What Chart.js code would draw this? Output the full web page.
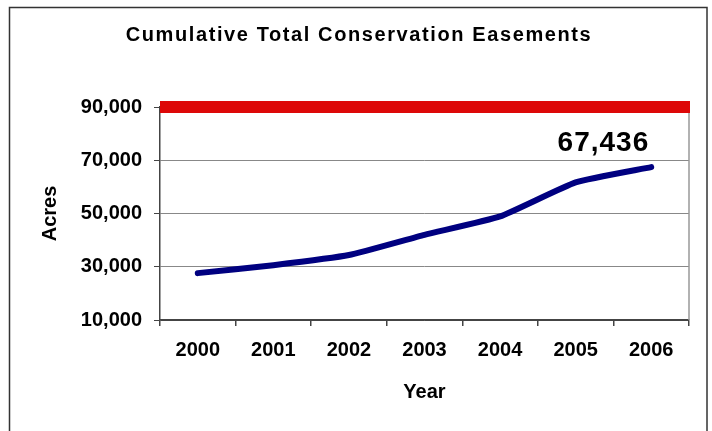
<!DOCTYPE html>
<html>
<head>
<meta charset="utf-8">
<title>Cumulative Total Conservation Easements</title>
<script src="https://cdn.jsdelivr.net/npm/chart.js@4"></script>
<style>
  html, body { margin: 0; padding: 0; background: #fff; }
  #wrap { width: 712px; height: 431px; }
</style>
</head>
<body>
<div id="wrap"><canvas id="easementChart" width="712" height="431"></canvas></div>
<script>
// Chart data
const TITLE = "Cumulative Total Conservation Easements";
const YEARS = ["2000", "2001", "2002", "2003", "2004", "2005", "2006"];
const ACRES = [27600, 30600, 34400, 42000, 48900, 61700, 67436];
const GOAL_ACRES = 90000;
const Y_TICKS = [10000, 30000, 50000, 70000, 90000];

const FONT = "'Liberation Sans', Arial, sans-serif";
const AXIS_DARK = "#444";

/**
 * Frame, title, goal band, plot edge and the end-value label
 */
const decorations = {
  id: "decorations",
  beforeDraw(chart) {
    const { ctx } = chart;
    ctx.save();
    // outer frame (bottom edge runs off the canvas)
    ctx.strokeStyle = "#333";
    ctx.lineWidth = 1.5;
    ctx.strokeRect(9.5, 7.5, 697.5, 500);

    ctx.fillStyle = "#000";
    ctx.font = "bold 20px " + FONT;
    ctx.letterSpacing = "1.6px";
    ctx.textAlign = "center";
    ctx.textBaseline = "middle";
    ctx.fillText(TITLE, 359, 35);
    ctx.restore();
  },
  afterDraw(chart) {
    const { ctx, chartArea } = chart;
    const y = chart.scales.y;
    ctx.save();

    // right edge of the plot area
    ctx.strokeStyle = "#999";
    ctx.lineWidth = 1.5;
    ctx.beginPath();
    ctx.moveTo(chartArea.right, chartArea.top);
    ctx.lineTo(chartArea.right, chartArea.bottom);
    ctx.stroke();

    // goal band
    const gy = y.getPixelForValue(GOAL_ACRES);
    ctx.strokeStyle = "#dd0808";
    ctx.lineWidth = 12;
    ctx.beginPath();
    ctx.moveTo(chartArea.left, gy);
    ctx.lineTo(chartArea.right + 1, gy);
    ctx.stroke();

    // latest total above the last point
    const meta = chart.getDatasetMeta(0);
    const idx = ACRES.length - 1;
    const pt = meta.data[idx];
    ctx.fillStyle = "#000";
    ctx.font = "bold 28px " + FONT;
    ctx.letterSpacing = "1px";
    ctx.textAlign = "right";
    ctx.textBaseline = "middle";
    ctx.fillText(ACRES[idx].toLocaleString("en-US"), pt.x - 2, pt.y - 24);
    ctx.restore();
  },
};

const ctx = document.getElementById("easementChart").getContext("2d");

new Chart(ctx, {
  type: "line",
  data: {
    labels: YEARS,
    datasets: [
      {
        label: "Acres",
        data: ACRES,
        borderColor: "#000080",
        borderWidth: 6,
        borderCapStyle: "round",
        borderJoinStyle: "round",
        pointRadius: 0,
        tension: 0.15,
        fill: false,
      },
    ],
  },
  options: {
    responsive: false,
    animation: false,
    layout: {
      padding: { left: 10, right: 23, top: 107, bottom: 0 },
    },
    plugins: {
      legend: { display: false },
      tooltip: { enabled: false },
      title: { display: false },
    },
    scales: {
      x: {
        type: "category",
        offset: true,
        grid: {
          offset: true,
          drawOnChartArea: false,
          drawTicks: true,
          tickLength: 6,
          tickColor: AXIS_DARK,
          lineWidth: 1.5,
        },
        border: { color: AXIS_DARK, width: 1.5 },
        ticks: {
          color: "#000",
          font: { family: FONT, size: 20, weight: "bold" },
          padding: 12,
          maxRotation: 0,
          autoSkip: false,
        },
        title: {
          display: true,
          text: "Year",
          color: "#000",
          font: { family: FONT, size: 20, weight: "bold" },
          padding: { top: 0, bottom: 27 },
        },
        afterFit(scale) {
          scale.height = 111;
        },
      },
      y: {
        min: 10000,
        max: 90000,
        afterBuildTicks(scale) {
          scale.ticks = Y_TICKS.map((v) => ({ value: v }));
        },
        grid: {
          color: (c) => (c.tick && c.tick.value === 10000 ? AXIS_DARK : "#888"),
          lineWidth: 1,
          drawTicks: true,
          tickLength: 6,
          tickColor: AXIS_DARK,
        },
        border: { color: AXIS_DARK, width: 1.5 },
        ticks: {
          color: "#000",
          font: { family: FONT, size: 20, weight: "bold" },
          padding: 12,
          callback: (v) => Number(v).toLocaleString("en-US"),
        },
        title: {
          display: true,
          text: "Acres",
          color: "#000",
          font: { family: FONT, size: 20, weight: "bold" },
          padding: { top: 28, bottom: 0 },
        },
        afterFit(scale) {
          scale.width = 150;
        },
      },
    },
  },
  plugins: [decorations],
});
</script>
</body>
</html>
